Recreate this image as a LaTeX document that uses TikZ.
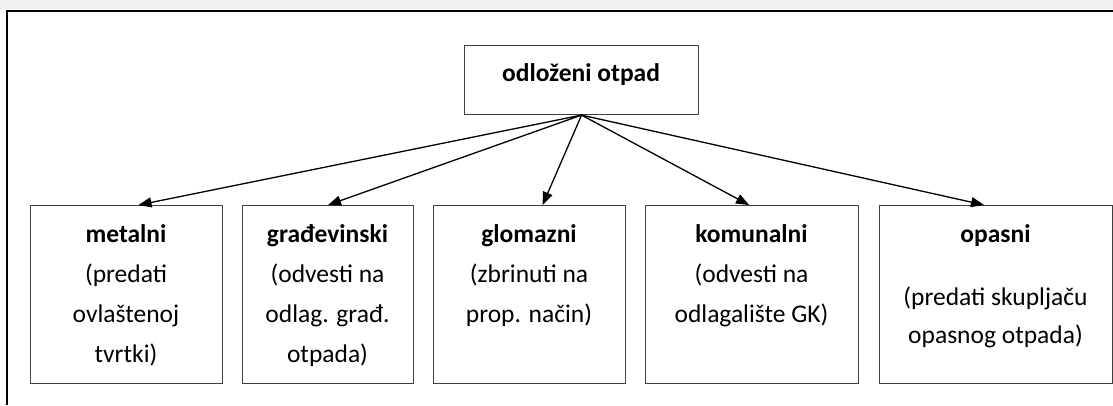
\documentclass[tikz,border=0pt]{standalone}
\usepackage{fontspec}
\setmainfont{Carlito}
\usetikzlibrary{arrows.meta}
\begin{document}
\begin{tikzpicture}[x=1pt,y=-1pt,
  box/.style={draw=black!75, line width=1.1pt, inner sep=0pt, anchor=north west},
  txt/.style={align=center, anchor=north, inner sep=0pt, font=\fontsize{25.5}{40}\selectfont},
  arr/.style={-{Triangle[length=13pt,width=10pt]}, line width=1.3pt}]
\useasboundingbox (0,0) rectangle (1113,405);
\fill[black!6] (0,0) rectangle (1113,9);
\draw[line width=2.4pt] (7,405) -- (7,11) -- (1113,11);
% top box
\node[box, minimum width=234pt, minimum height=69pt] (top) at (464,45) {};
\node[txt] (toptxt) at (581,53) {\strut\textbf{odloženi otpad}};
% bottom boxes
\node[box, minimum width=192pt, minimum height=178pt] (m) at (30,205) {};
\node[box, minimum width=171pt, minimum height=178pt] (g) at (242,205) {};
\node[box, minimum width=192pt, minimum height=178pt] (gl) at (433,205) {};
\node[box, minimum width=213pt, minimum height=178pt] (k) at (645,205) {};
\node[box, minimum width=233pt, minimum height=178pt] (o) at (879,205) {};
% texts
\node[txt] (mt) at (126,214) {\strut\textbf{metalni}\\(predati\\ovlaštenoj\\tvrtki)};
\node[txt] (gt) at (327.5,214) {\strut\textbf{građevinski}\\(odvesti na\\odlag. građ.\\otpada)};
\node[txt] (glt) at (529,214) {\strut\textbf{glomazni}\\(zbrinuti na\\prop. način)};
\node[txt] (kt) at (751.5,214) {\strut\textbf{komunalni}\\(odvesti na\\odlagalište GK)};
\node[txt] (ot) at (995.5,214) {\strut\textbf{opasni}\\[23pt](predati skupljaču\\[-2pt]opasnog otpada)};
% arrows
\draw[arr] (top.south) -- ([xshift=12pt]m.north);
\draw[arr] (top.south) -- (g.north);
\draw[arr] (top.south) -- ([xshift=13pt]gl.north);
\draw[arr] (top.south) -- ([xshift=-3pt]k.north);
\draw[arr] (top.south) -- ([xshift=-12pt]o.north);
\end{tikzpicture}
\end{document}
